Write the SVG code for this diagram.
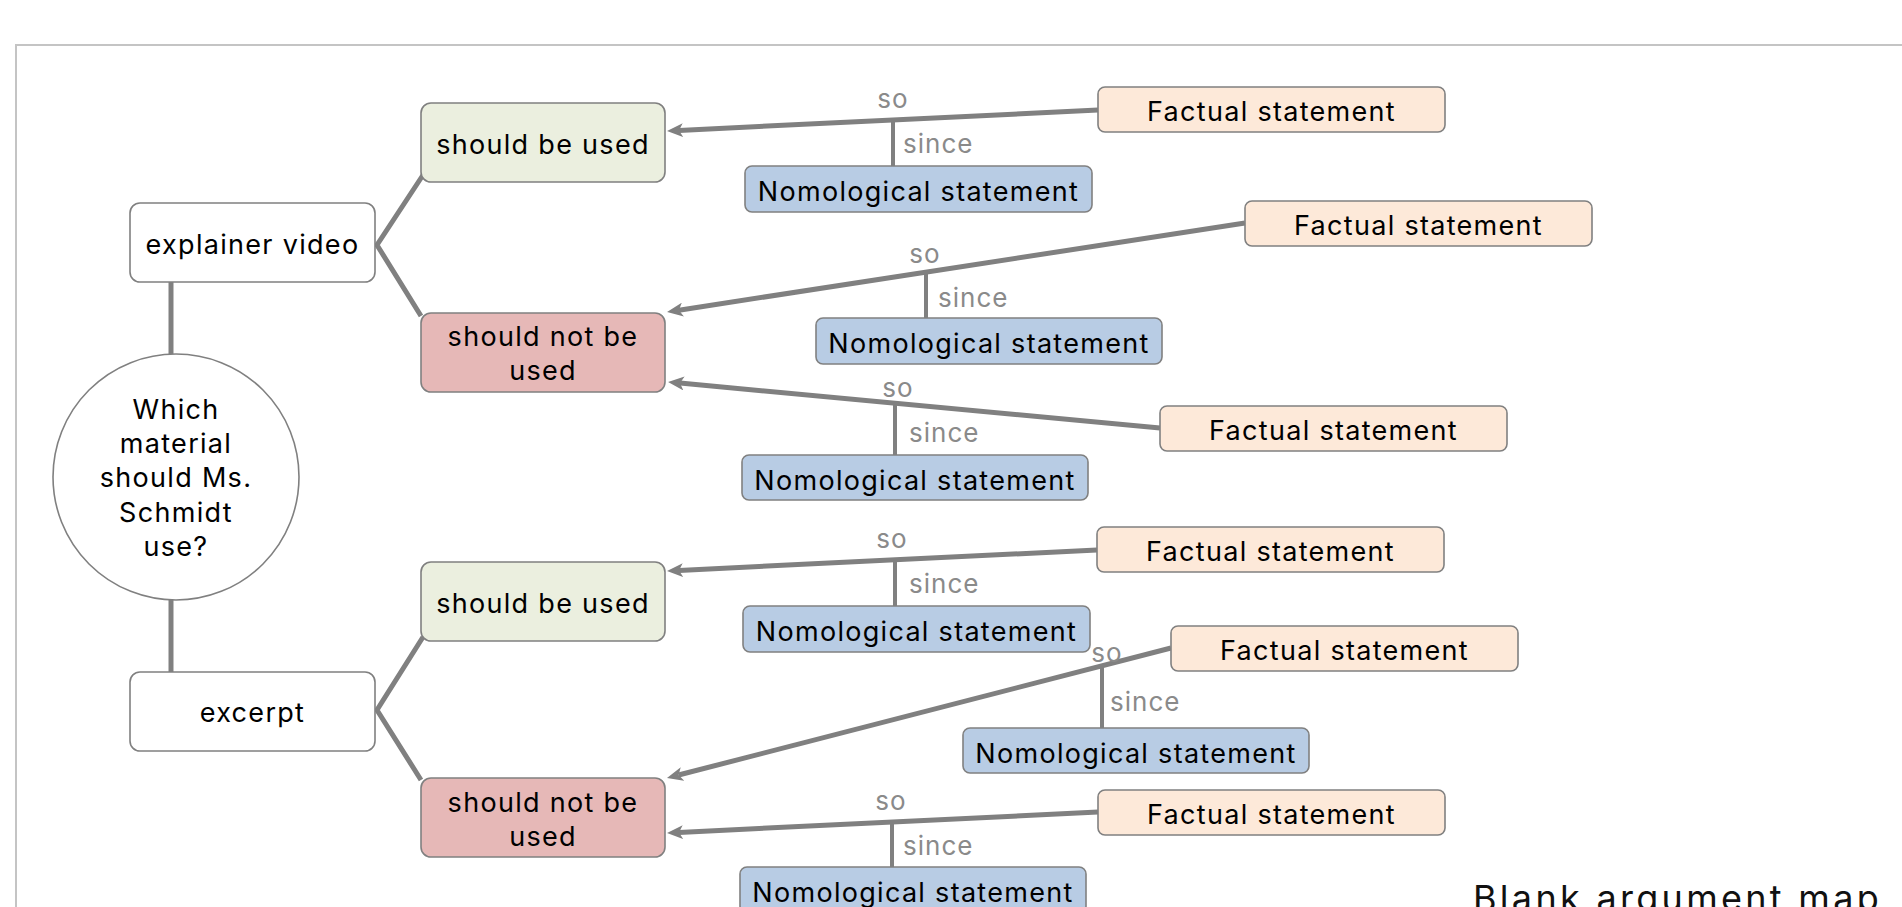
<svg xmlns="http://www.w3.org/2000/svg" width="1902" height="907" viewBox="0 0 1902 907">
<style>
.t{font-family:Inter,"Liberation Sans",sans-serif;font-size:27px;fill:#000;letter-spacing:1.3px;text-anchor:middle}
.lbl{font-family:Inter,"Liberation Sans",sans-serif;font-size:26px;fill:#8a8a8a;letter-spacing:1px}
.so{text-anchor:middle}
.box{stroke:#808080;stroke-width:1.6}
.white{fill:#fff}
.pro{fill:#ebefdf}
.con{fill:#e6b8b7}
.fact{fill:#fde9d9}
.nomo{fill:#b8cce4}
.edge{stroke:#808080;stroke-width:5;fill:none}
.arr{stroke:#808080;stroke-width:5;fill:none;marker-end:url(#ah)}
.since{stroke:#808080;stroke-width:4;fill:none}
</style>
<defs>
<marker id="ah" markerUnits="userSpaceOnUse" markerWidth="16" markerHeight="14" viewBox="0 0 16 14" refX="4" refY="7" orient="auto">
<path d="M0,0 L16,7 L0,14 L4,7 Z" fill="#808080"/>
</marker>
</defs>
<rect width="1902" height="907" fill="#fff"/>
<path d="M16,910 V45 H1905" fill="none" stroke="#c4c4c4" stroke-width="2"/>

<g id="connectors">
<line class="edge" x1="171" y1="281" x2="171" y2="354"/>
<line class="edge" x1="171" y1="600" x2="171" y2="672"/>
<polyline class="edge" points="423,175 377,245 421,316"/>
<polyline class="edge" points="423,637 377,710 421,780"/>
<line class="arr" x1="1098" y1="110" x2="679" y2="130.4"/>
<line class="arr" x1="1245" y1="223" x2="678.9" y2="310.2"/>
<line class="arr" x1="1160" y1="428" x2="680" y2="383.1"/>
<line class="arr" x1="1097" y1="550" x2="679" y2="570.4"/>
<line class="arr" x1="1171" y1="648" x2="678.6" y2="775"/>
<line class="arr" x1="1098" y1="812" x2="679" y2="832.4"/>
<line class="since" x1="893" y1="120" x2="893" y2="166"/>
<line class="since" x1="926" y1="272" x2="926" y2="318"/>
<line class="since" x1="895" y1="403" x2="895" y2="455"/>
<line class="since" x1="895" y1="560" x2="895" y2="606"/>
<line class="since" x1="1102" y1="666" x2="1102" y2="728"/>
<line class="since" x1="892" y1="822" x2="892" y2="867"/>
<text class="lbl so" x="893" y="108">so</text>
<text class="lbl" x="903" y="153">since</text>
<text class="lbl so" x="925" y="263">so</text>
<text class="lbl" x="938" y="307">since</text>
<text class="lbl so" x="898" y="397">so</text>
<text class="lbl" x="909" y="442">since</text>
<text class="lbl so" x="892" y="548">so</text>
<text class="lbl" x="909" y="593">since</text>
<text class="lbl so" x="1107" y="662">so</text>
<text class="lbl" x="1110" y="711">since</text>
<text class="lbl so" x="891" y="810">so</text>
<text class="lbl" x="903" y="855">since</text>
</g>

<g id="question">
<circle class="box white" cx="176" cy="477" r="123"/>
<text class="t" x="176" y="419">Which</text>
<text class="t" x="176" y="453">material</text>
<text class="t" x="176" y="487">should Ms.</text>
<text class="t" x="176" y="521.5">Schmidt</text>
<text class="t" x="176" y="556">use?</text>
</g>

<g id="explainer-video">
<rect class="box white" x="130" y="203" width="245" height="79" rx="10"/>
<text class="t" x="252.5" y="254">explainer video</text>
</g>
<g id="excerpt">
<rect class="box white" x="130" y="672" width="245" height="79" rx="10"/>
<text class="t" x="252.5" y="722">excerpt</text>
</g>

<g id="pro-video">
<rect class="box pro" x="421" y="103" width="244" height="79" rx="10"/>
<text class="t" x="543" y="154">should be used</text>
</g>
<g id="con-video">
<rect class="box con" x="421" y="313" width="244" height="79" rx="10"/>
<text class="t" x="543" y="346">should not be</text>
<text class="t" x="543" y="380">used</text>
</g>
<g id="pro-excerpt">
<rect class="box pro" x="421" y="562" width="244" height="79" rx="10"/>
<text class="t" x="543" y="613">should be used</text>
</g>
<g id="con-excerpt">
<rect class="box con" x="421" y="778" width="244" height="79" rx="10"/>
<text class="t" x="543" y="811.5">should not be</text>
<text class="t" x="543" y="845.5">used</text>
</g>

<g id="fact-1">
<rect class="box fact" x="1098" y="87" width="347" height="45" rx="7"/>
<text class="t" x="1271.5" y="120.5">Factual statement</text>
</g>
<g id="nomo-1">
<rect class="box nomo" x="745" y="166" width="347" height="46" rx="7"/>
<text class="t" x="918.5" y="201">Nomological statement</text>
</g>
<g id="fact-2">
<rect class="box fact" x="1245" y="201" width="347" height="45" rx="7"/>
<text class="t" x="1418.5" y="234.5">Factual statement</text>
</g>
<g id="nomo-2">
<rect class="box nomo" x="816" y="318" width="346" height="46" rx="7"/>
<text class="t" x="989" y="353">Nomological statement</text>
</g>
<g id="fact-3">
<rect class="box fact" x="1160" y="406" width="347" height="45" rx="7"/>
<text class="t" x="1333.5" y="439.5">Factual statement</text>
</g>
<g id="nomo-3">
<rect class="box nomo" x="742" y="455" width="346" height="45" rx="7"/>
<text class="t" x="915" y="489.5">Nomological statement</text>
</g>
<g id="fact-4">
<rect class="box fact" x="1097" y="527" width="347" height="45" rx="7"/>
<text class="t" x="1270.5" y="560.5">Factual statement</text>
</g>
<g id="nomo-4">
<rect class="box nomo" x="743" y="606" width="347" height="46" rx="7"/>
<text class="t" x="916.5" y="641">Nomological statement</text>
</g>
<g id="fact-5">
<rect class="box fact" x="1171" y="626" width="347" height="45" rx="7"/>
<text class="t" x="1344.5" y="659.5">Factual statement</text>
</g>
<g id="nomo-5">
<rect class="box nomo" x="963" y="728" width="346" height="45" rx="7"/>
<text class="t" x="1136" y="762.5">Nomological statement</text>
</g>
<g id="fact-6">
<rect class="box fact" x="1098" y="790" width="347" height="45" rx="7"/>
<text class="t" x="1271.5" y="823.5">Factual statement</text>
</g>
<g id="nomo-6">
<rect class="box nomo" x="740" y="867" width="346" height="46" rx="7"/>
<text class="t" x="913" y="902">Nomological statement</text>
</g>

<text x="1473" y="911" font-family="Inter, 'Liberation Sans', sans-serif" font-size="36" letter-spacing="3.3" fill="#111">Blank argument map</text>
</svg>
